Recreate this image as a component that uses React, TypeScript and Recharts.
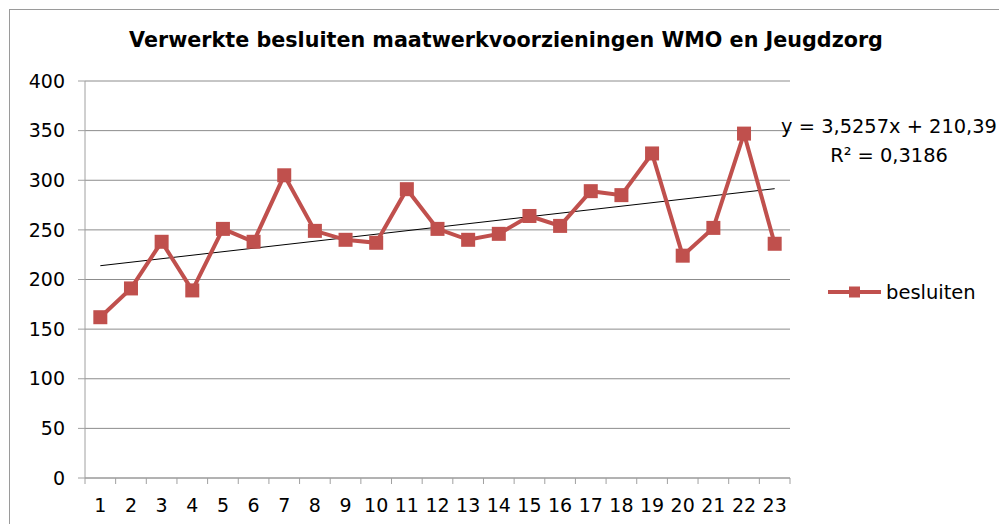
import React from 'react';
import { LineChart, Line, XAxis, YAxis, CartesianGrid } from 'recharts';

const periods = [1, 2, 3, 4, 5, 6, 7, 8, 9, 10, 11, 12, 13, 14, 15, 16, 17, 18, 19, 20, 21, 22, 23];
const besluiten = [162, 191, 238, 189, 251, 238, 305, 249, 240, 237, 291, 251, 240, 246, 264, 254, 289, 285, 327, 224, 252, 347, 236];
// trendline end points (linear fit shown in the chart)
const trendStart = 213.9;
const trendEnd = 291.5;
const yTicks = [0, 50, 100, 150, 200, 250, 300, 350, 400];

const title = 'Verwerkte besluiten maatwerkvoorzieningen WMO en Jeugdzorg';
const equation = 'y = 3,5257x + 210,39';
const rSquared = 'R² = 0,3186';
const seriesName = 'besluiten';

const RED = '#C0504D';
const GRID = '#8c8c8c';
const AXIS = '#a0a0a0';
const FONT = '"DejaVu Sans", Verdana, sans-serif';

const W = 999;
const H = 524;
const PLOT_LEFT = 85;
const PLOT_TOP = 81;
const PLOT_W = 705;
const PLOT_H = 397;
const Y_AXIS_W = 60;

const data = periods.map((p, i) => ({
  p,
  besluiten: besluiten[i],
  trend: i === 0 ? trendStart : i === periods.length - 1 ? trendEnd : null,
}));

const XTick = (props: any) => {
  const { x, y, payload } = props;
  const half = PLOT_W / periods.length / 2;
  const isLast = payload.value === periods[periods.length - 1];
  return (
    <g>
      <line x1={x - half} y1={y} x2={x - half} y2={y + 6} stroke={AXIS} />
      {isLast && <line x1={x + half} y1={y} x2={x + half} y2={y + 6} stroke={AXIS} />}
      <text x={x} y={y + 27} textAnchor="middle" dominantBaseline="central" fontSize={19} fill="#000" fontFamily={FONT}>
        {payload.value}
      </text>
    </g>
  );
};

const SquareDot = (props: any) => {
  const { cx, cy, index } = props;
  if (cx == null || cy == null) return <g key={index} />;
  return <rect key={index} x={cx - 7} y={cy - 7} width={14} height={14} fill={RED} />;
};

const App = () => {
  return (
    <div style={{ position: 'absolute', left: 0, top: 0, width: W, height: H, background: '#fff', fontFamily: FONT }}>
      <div style={{ position: 'absolute', left: 9, top: 9, width: W - 9, height: H - 9, borderLeft: '1px solid #9a9a9a', borderTop: '1px solid #9a9a9a' }} />
      <div style={{ position: 'absolute', left: 0, top: 26, width: 1012, textAlign: 'center', fontSize: 20.7, fontWeight: 'bold', color: '#000', lineHeight: '28px', whiteSpace: 'nowrap' }}>
        {title}
      </div>

      <LineChart
        width={W}
        height={H}
        data={data}
        margin={{ top: PLOT_TOP, left: PLOT_LEFT - Y_AXIS_W, right: W - PLOT_LEFT - PLOT_W, bottom: H - PLOT_TOP - PLOT_H - 46 }}
        style={{ position: 'absolute', left: 0, top: 0 }}
      >
        <CartesianGrid vertical={false} stroke={GRID} strokeWidth={1} />
        <XAxis
          dataKey="p"
          type="number"
          domain={[0.5, periods.length + 0.5]}
          ticks={periods}
          interval={0}
          height={46}
          tickLine={false}
          tickSize={0}
          tickMargin={0}
          stroke={AXIS}
          tick={<XTick />}
        />
        <YAxis
          domain={[0, 400]}
          ticks={yTicks}
          interval={0}
          width={Y_AXIS_W}
          stroke={AXIS}
          tickSize={7}
          tickMargin={13}
          tick={{ fontSize: 19, fill: '#000', fontFamily: FONT }}
        />
        <Line
          dataKey="trend"
          stroke="#000"
          strokeWidth={1}
          dot={false}
          connectNulls
          isAnimationActive={false}
        />
        <Line
          dataKey="besluiten"
          stroke={RED}
          strokeWidth={4}
          dot={<SquareDot />}
          isAnimationActive={false}
        />
      </LineChart>

      <div style={{ position: 'absolute', left: 769, top: 112, width: 240, textAlign: 'center', fontSize: 19.4, lineHeight: '29px', color: '#000', whiteSpace: 'nowrap' }}>
        <div>{equation}</div>
        <div>{rSquared}</div>
      </div>

      <div style={{ position: 'absolute', left: 828, top: 278, height: 28, display: 'flex', alignItems: 'center', fontSize: 19.5, color: '#000' }}>
        <svg width={53} height={14} style={{ display: 'block' }}>
          <line x1={0} y1={7} x2={53} y2={7} stroke={RED} strokeWidth={4} />
          <rect x={21} y={1.5} width={11} height={11} fill={RED} />
        </svg>
        <span style={{ marginLeft: 5 }}>{seriesName}</span>
      </div>
    </div>
  );
};

export default App;
